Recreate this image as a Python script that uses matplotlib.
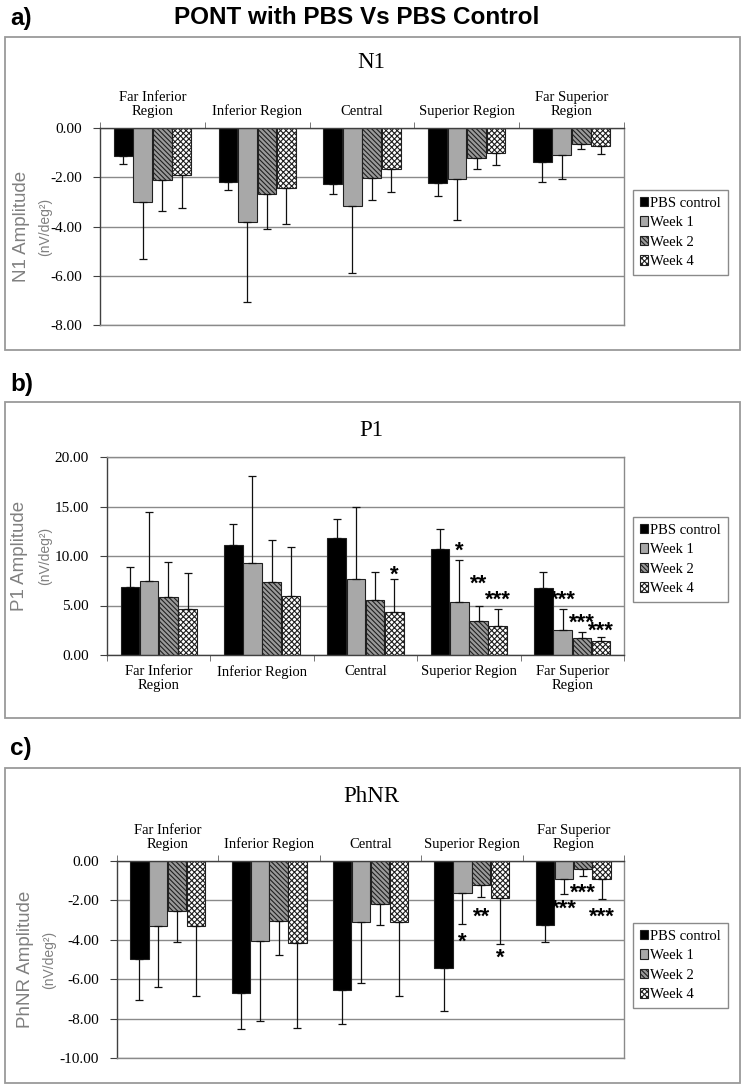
import matplotlib
matplotlib.use("Agg")
import matplotlib.pyplot as plt
from matplotlib.patches import Rectangle
import numpy as np

# ---------------- data ----------------
series = ["PBS control", "Week 1", "Week 2", "Week 4"]
regions_top = ["Far Inferior\nRegion", "Inferior Region", "Central", "Superior Region", "Far Superior\nRegion"]

n1_pbs = [-1.15, -2.19, -2.29, -2.24, -1.39]
n1_w1 = [-3.00, -3.83, -3.17, -2.08, -1.09]
n1_w2 = [-2.13, -2.67, -2.02, -1.21, -0.65]
n1_w4 = [-1.92, -2.43, -1.67, -1.00, -0.72]
n1_pbs_sd = [0.31, 0.32, 0.40, 0.51, 0.82]
n1_w1_sd = [2.30, 3.23, 2.70, 1.67, 0.97]
n1_w2_sd = [1.24, 1.42, 0.89, 0.46, 0.21]
n1_w4_sd = [1.32, 1.47, 0.91, 0.52, 0.35]

p1_pbs = [6.90, 11.14, 11.82, 10.71, 6.77]
p1_w1 = [7.44, 9.29, 7.64, 5.32, 2.56]
p1_w2 = [5.86, 7.37, 5.59, 3.43, 1.72]
p1_w4 = [4.68, 5.99, 4.31, 2.93, 1.38]
p1_pbs_sd = [1.96, 2.13, 1.92, 2.02, 1.61]
p1_w1_sd = [7.00, 8.82, 7.34, 4.31, 2.09]
p1_w2_sd = [3.57, 4.25, 2.79, 1.52, 0.64]
p1_w4_sd = [3.64, 4.89, 3.33, 1.75, 0.47]

ph_pbs = [-4.97, -6.68, -6.53, -5.43, -3.27]
ph_w1 = [-3.28, -4.04, -3.08, -1.64, -0.90]
ph_w2 = [-2.55, -3.03, -2.17, -1.22, -0.41]
ph_w4 = [-3.32, -4.15, -3.08, -1.86, -0.90]
ph_pbs_sd = [2.10, 1.86, 1.73, 2.17, 0.84]
ph_w1_sd = [3.12, 4.06, 3.11, 1.57, 0.78]
ph_w2_sd = [1.56, 1.72, 1.06, 0.61, 0.33]
ph_w4_sd = [3.52, 4.31, 3.79, 2.34, 1.03]

# significance marks: (region index, series index, text, y)
p1_stars = [(2, 3, "*", 8.1), (3, 1, "*", 10.5), (3, 2, "**", 7.2), (3, 3, "***", 5.5),
            (4, 1, "***", 5.55), (4, 2, "***", 3.2), (4, 3, "***", 2.36)]
ph_stars = [(3, 1, "*", -4.1), (3, 2, "**", -2.85), (3, 3, "*", -4.95),
            (4, 1, "***", -2.45), (4, 2, "***", -1.65), (4, 3, "***", -2.85)]

# ---------------- style ----------------
plt.rcParams["hatch.linewidth"] = 0.8
SERIF = ["Liberation Serif", "DejaVu Serif"]
SANS = ["Liberation Sans", "DejaVu Sans"]
faces = ["#000000", "#a8a8a8", "#9a9a9a", "#ffffff"]
hatches = [None, None, "\\\\\\\\\\\\\\", "xxxxxx"]

W, H = 747, 1090
fig = plt.figure(figsize=(W / 100, H / 100), dpi=100)


def fx(px):
    return px / W


def fy(py):
    return 1 - py / H


def panel(axpos, vals, sds, ylim, step, cats_top, title, title_y, ylab, ylab_x, frame, legend_y, stars=None):
    x0, x1, ytop, ybot = axpos
    ax = fig.add_axes([fx(x0), fy(ybot), fx(x1) - fx(x0), fy(ytop) - fy(ybot)])
    x = np.arange(5)
    bw = 0.18
    sp = 0.186
    handles = []
    for i in range(4):
        pos = x + (i - 1.5) * sp
        v = np.array(vals[i])
        e = np.array(sds[i])
        b = ax.bar(pos, v, bw, color=faces[i], edgecolor="#202020", linewidth=0.8,
                   hatch=hatches[i], zorder=2, label=series[i])
        handles.append(b)
        lower = np.where(v < 0, e, 0)
        upper = np.where(v >= 0, e, 0)
        ax.errorbar(pos, v, yerr=[lower, upper], fmt="none", ecolor="#101010",
                    elinewidth=0.9, capsize=2.6, capthick=0.9, zorder=3)
    ax.set_xlim(-0.5, 4.5)
    ax.set_ylim(*ylim)
    ticks = np.arange(ylim[0], ylim[1] + 0.001, step)
    ax.set_yticks(ticks)
    ax.set_yticklabels(["%.2f" % t for t in ticks], family=SERIF, fontsize=11)
    ax.set_axisbelow(True)
    ax.yaxis.grid(True, color="#8a8a8a", linewidth=1.0)
    ax.set_xticks(x)
    ax.set_xticklabels(regions_top, family=SERIF, fontsize=10.5, linespacing=1.15)
    ax.set_xticks(np.arange(-0.5, 5.0, 1.0), minor=True)
    ax.tick_params(axis="x", which="major", length=0, pad=7)
    ax.tick_params(axis="x", which="minor", length=4, color="#606060")
    ax.tick_params(axis="y", length=5, color="#404040", pad=8)
    for s in ax.spines.values():
        s.set_color("#8a8a8a")
        s.set_linewidth(1.0)
    ax.spines["left"].set_color("#404040")
    if cats_top:
        ax.xaxis.tick_top()
        ax.spines["top"].set_color("#404040")
        ax.tick_params(axis="x", which="both", top=True, bottom=False, labeltop=True, labelbottom=False)
    else:
        ax.spines["bottom"].set_color("#404040")
    fig.text(fx(371), fy(title_y), title, family=SERIF, fontsize=16.5, ha="center", va="center")
    ymid = (ytop + ybot) / 2
    fig.text(fx(ylab_x[0]), fy(ymid), ylab, family=SANS, fontsize=13.5, color="#808080",
             rotation=90, ha="center", va="center")
    fig.text(fx(ylab_x[1]), fy(ymid), "(nV/deg²)", family=SANS, fontsize=10, color="#808080",
             rotation=90, ha="center", va="center")
    fig.add_artist(Rectangle((fx(5), fy(frame[1])), fx(740) - fx(5), fy(frame[0]) - fy(frame[1]),
                             transform=fig.transFigure, fill=False, edgecolor="#9a9a9a", linewidth=1.3))
    leg = ax.legend(handles=handles, loc="upper left", bbox_to_anchor=(fx(633), fy(legend_y)),
                    bbox_transform=fig.transFigure, prop={"family": SERIF, "size": 10.5},
                    frameon=True, fancybox=False, edgecolor="#8a8a8a", framealpha=1,
                    handlelength=0.6, handleheight=0.6, handletextpad=0.15,
                    labelspacing=0.45, borderpad=0.45, borderaxespad=0)
    leg.get_frame().set_linewidth(1.0)
    if stars:
        for ci, si, txt, yv in stars:
            ax.text(ci + (si - 1.5) * sp, yv, txt, family=SANS, fontweight="bold", fontsize=16,
                    ha="center", va="center", zorder=4)
    return ax


panel((100, 624, 128, 325), [n1_pbs, n1_w1, n1_w2, n1_w4], [n1_pbs_sd, n1_w1_sd, n1_w2_sd, n1_w4_sd],
      (-8, 0), 2, True, "N1", 63, "N1 Amplitude", (22, 45), (37, 350), 190)
panel((107, 624, 457, 655), [p1_pbs, p1_w1, p1_w2, p1_w4], [p1_pbs_sd, p1_w1_sd, p1_w2_sd, p1_w4_sd],
      (0, 20), 5, False, "P1", 430, "P1 Amplitude", (20, 45), (402, 718), 517, p1_stars)
panel((117, 624, 861, 1058), [ph_pbs, ph_w1, ph_w2, ph_w4], [ph_pbs_sd, ph_w1_sd, ph_w2_sd, ph_w4_sd],
      (-10, 0), 2, True, "PhNR", 797, "PhNR Amplitude", (25, 49), (768, 1083), 923, ph_stars)

fig.text(fx(357), fy(18), "PONT with PBS Vs PBS Control", family=SANS, fontweight="bold",
         fontsize=17.5, ha="center", va="center")
for lab, yy in [("a)", 18), ("b)", 385), ("c)", 748)]:
    fig.text(fx(10), fy(yy), lab, family=SANS, fontweight="bold", fontsize=17.5, ha="left", va="center")

fig.savefig("out.png", dpi=100)
